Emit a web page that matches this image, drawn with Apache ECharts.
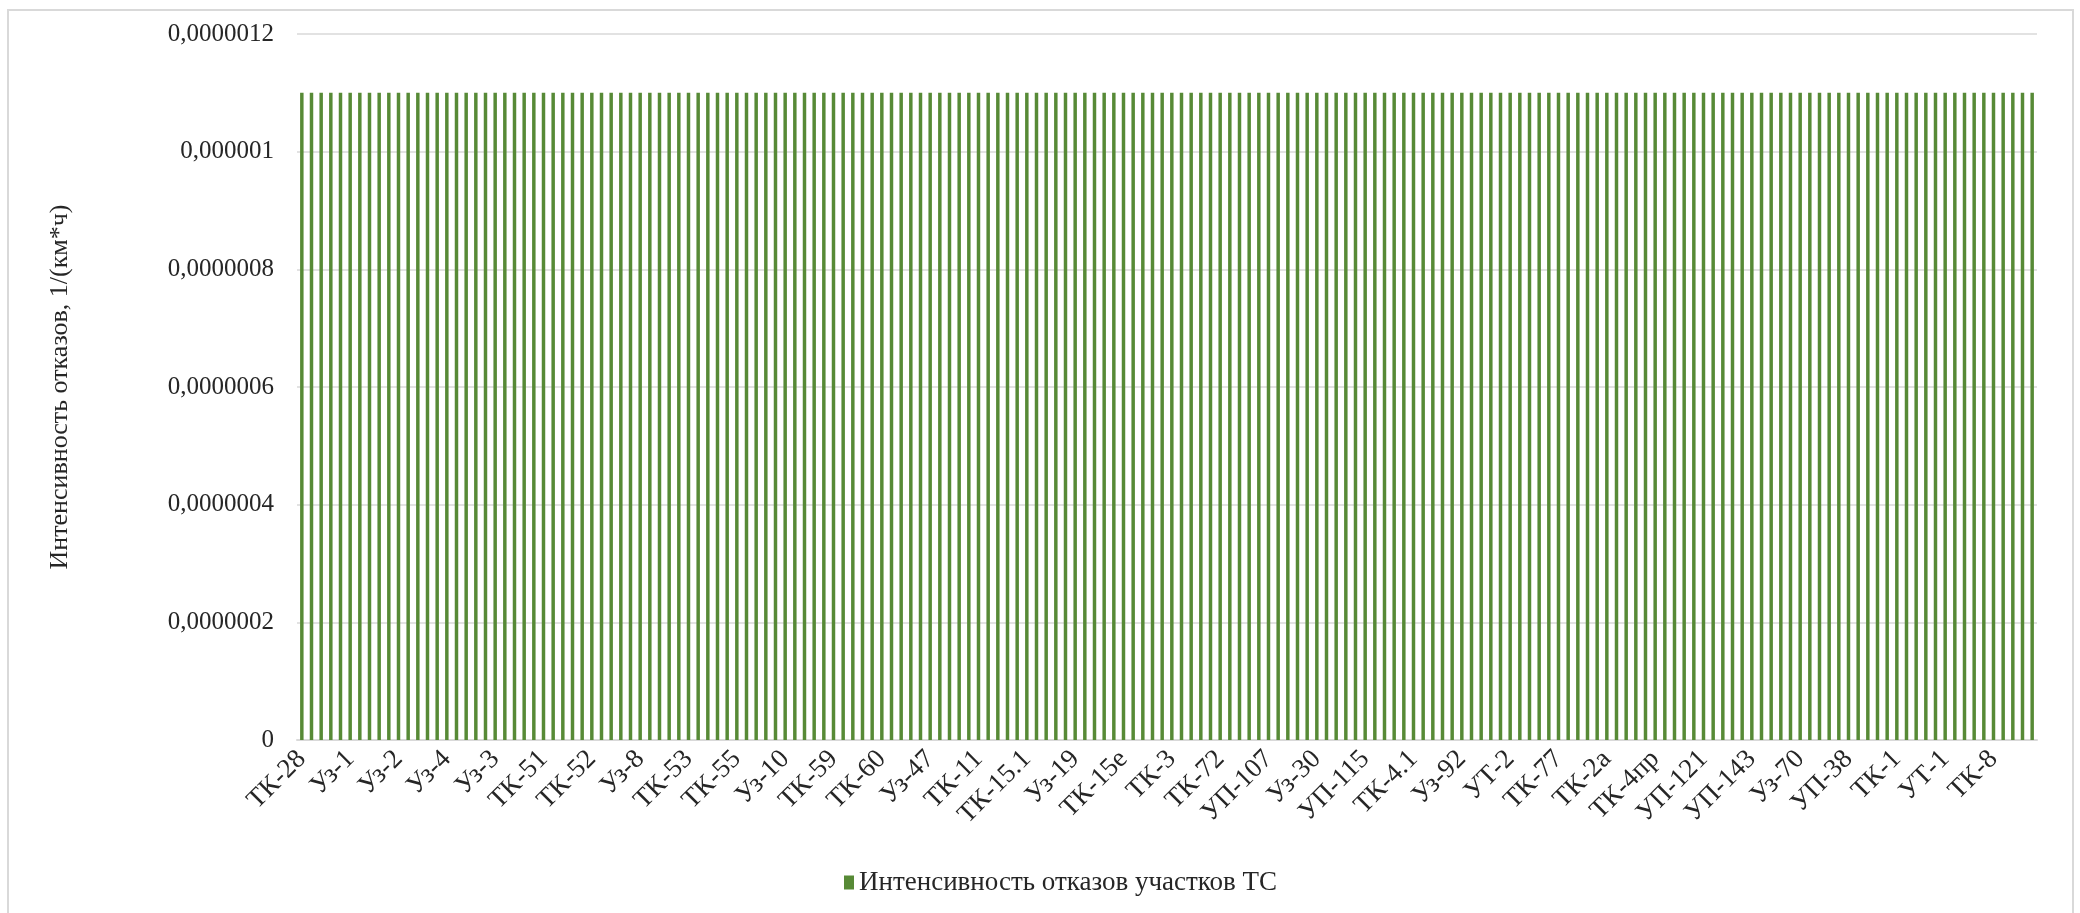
<!DOCTYPE html>
<html>
<head>
<meta charset="utf-8">
<script src="https://cdn.jsdelivr.net/npm/echarts@6/dist/echarts.min.js"></script>
<style>
  html, body { margin: 0; padding: 0; background: #fff; }
  #chart { width: 2080px; height: 913px; }
</style>
</head>
<body>
<div id="chart"></div>
<script>
// подписи, которые видны на оси X (каждая 5-я категория)
var tickLabels = [
  "ТК-28", "Уз-1", "Уз-2", "Уз-4", "Уз-3", "ТК-51", "ТК-52", "Уз-8", "ТК-53",
  "ТК-55", "Уз-10", "ТК-59", "ТК-60", "Уз-47", "ТК-11", "ТК-15.1", "Уз-19",
  "ТК-15е", "ТК-3", "ТК-72", "УП-107", "Уз-30", "УП-115", "ТК-4.1", "Уз-92",
  "УТ-2", "ТК-77", "ТК-2а", "ТК-4пр", "УП-121", "УП-143", "Уз-70", "УП-38",
  "ТК-1", "УТ-1", "ТК-8"
];
var labelStep = 5;
var categoryCount = 180;

// интенсивность отказов, 1/(км*ч) - все участки одинаковые
var values = [
  0.0000011, 0.0000011, 0.0000011, 0.0000011, 0.0000011, 0.0000011, 0.0000011, 0.0000011, 0.0000011, 0.0000011,
  0.0000011, 0.0000011, 0.0000011, 0.0000011, 0.0000011, 0.0000011, 0.0000011, 0.0000011, 0.0000011, 0.0000011,
  0.0000011, 0.0000011, 0.0000011, 0.0000011, 0.0000011, 0.0000011, 0.0000011, 0.0000011, 0.0000011, 0.0000011,
  0.0000011, 0.0000011, 0.0000011, 0.0000011, 0.0000011, 0.0000011, 0.0000011, 0.0000011, 0.0000011, 0.0000011,
  0.0000011, 0.0000011, 0.0000011, 0.0000011, 0.0000011, 0.0000011, 0.0000011, 0.0000011, 0.0000011, 0.0000011,
  0.0000011, 0.0000011, 0.0000011, 0.0000011, 0.0000011, 0.0000011, 0.0000011, 0.0000011, 0.0000011, 0.0000011,
  0.0000011, 0.0000011, 0.0000011, 0.0000011, 0.0000011, 0.0000011, 0.0000011, 0.0000011, 0.0000011, 0.0000011,
  0.0000011, 0.0000011, 0.0000011, 0.0000011, 0.0000011, 0.0000011, 0.0000011, 0.0000011, 0.0000011, 0.0000011,
  0.0000011, 0.0000011, 0.0000011, 0.0000011, 0.0000011, 0.0000011, 0.0000011, 0.0000011, 0.0000011, 0.0000011,
  0.0000011, 0.0000011, 0.0000011, 0.0000011, 0.0000011, 0.0000011, 0.0000011, 0.0000011, 0.0000011, 0.0000011,
  0.0000011, 0.0000011, 0.0000011, 0.0000011, 0.0000011, 0.0000011, 0.0000011, 0.0000011, 0.0000011, 0.0000011,
  0.0000011, 0.0000011, 0.0000011, 0.0000011, 0.0000011, 0.0000011, 0.0000011, 0.0000011, 0.0000011, 0.0000011,
  0.0000011, 0.0000011, 0.0000011, 0.0000011, 0.0000011, 0.0000011, 0.0000011, 0.0000011, 0.0000011, 0.0000011,
  0.0000011, 0.0000011, 0.0000011, 0.0000011, 0.0000011, 0.0000011, 0.0000011, 0.0000011, 0.0000011, 0.0000011,
  0.0000011, 0.0000011, 0.0000011, 0.0000011, 0.0000011, 0.0000011, 0.0000011, 0.0000011, 0.0000011, 0.0000011,
  0.0000011, 0.0000011, 0.0000011, 0.0000011, 0.0000011, 0.0000011, 0.0000011, 0.0000011, 0.0000011, 0.0000011,
  0.0000011, 0.0000011, 0.0000011, 0.0000011, 0.0000011, 0.0000011, 0.0000011, 0.0000011, 0.0000011, 0.0000011,
  0.0000011, 0.0000011, 0.0000011, 0.0000011, 0.0000011, 0.0000011, 0.0000011, 0.0000011, 0.0000011, 0.0000011
];

var yMin = 0;
var yMax = 0.0000012;
var yStep = 0.0000002;

var seriesName = "Интенсивность отказов участков ТС";
var yAxisTitle = "Интенсивность отказов, 1/(км*ч)";

// промежуточные участки не подписаны на картинке, имена им неизвестны
var categories = [];
for (var i = 0; i < categoryCount; i++) {
  if (i % labelStep === 0) {
    categories.push(tickLabels[i / labelStep]);
  } else {
    categories.push("участок " + (i + 1));
  }
}

var font = "Liberation Serif";

var chartDom = document.getElementById("chart");
var myChart = echarts.init(chartDom);
var option = {
  animation: false,
  backgroundColor: "#fff",
  textStyle: { fontFamily: font },
  graphic: [
    {
      type: "polyline",
      shape: { points: [[8, 913], [8, 10], [2073, 10], [2073, 913]] },
      style: { stroke: "#d9d9d9", lineWidth: 2, fill: null },
      silent: true,
    },
  ],
  legend: {
    data: [seriesName],
    left: 839,
    top: 864,
    itemWidth: 10,
    itemHeight: 14,
    itemGap: 10,
    icon: "rect",
    textStyle: { fontFamily: font, fontSize: 27, color: "#262626" },
  },
  grid: {
    left: 297,
    right: 43,
    top: 34,
    bottom: 173,
    containLabel: false,
    outerBoundsMode: "none",
  },
  xAxis: {
    type: "category",
    data: categories,
    axisLine: { show: true, lineStyle: { color: "#d9d9d9", width: 2 } },
    axisTick: { show: false },
    axisLabel: {
      interval: labelStep - 1,
      rotate: 45,
      margin: 15,
      fontFamily: font,
      fontSize: 27,
      color: "#262626",
    },
  },
  yAxis: {
    type: "value",
    min: yMin,
    max: yMax,
    interval: yStep,
    name: yAxisTitle,
    nameLocation: "middle",
    nameGap: 224,
    nameTextStyle: { fontFamily: font, fontSize: 26, color: "#262626" },
    axisLine: { show: false },
    axisTick: { show: false },
    splitLine: { lineStyle: { color: "#d9d9d9", width: 1.5 } },
    axisLabel: {
      margin: 23,
      fontFamily: font,
      fontSize: 25,
      color: "#262626",
      formatter: function (v) {
        if (Math.abs(v) < 1e-12) return "0";
        var s = v.toFixed(7).replace(/0+$/, "").replace(/\.$/, "");
        return s.replace(".", ",");
      },
    },
  },
  series: [
    {
      name: seriesName,
      type: "bar",
      data: values,
      barWidth: "36%",
      itemStyle: { color: "#578a36" },
    },
  ],
};

option && myChart.setOption(option);
</script>
</body>
</html>
